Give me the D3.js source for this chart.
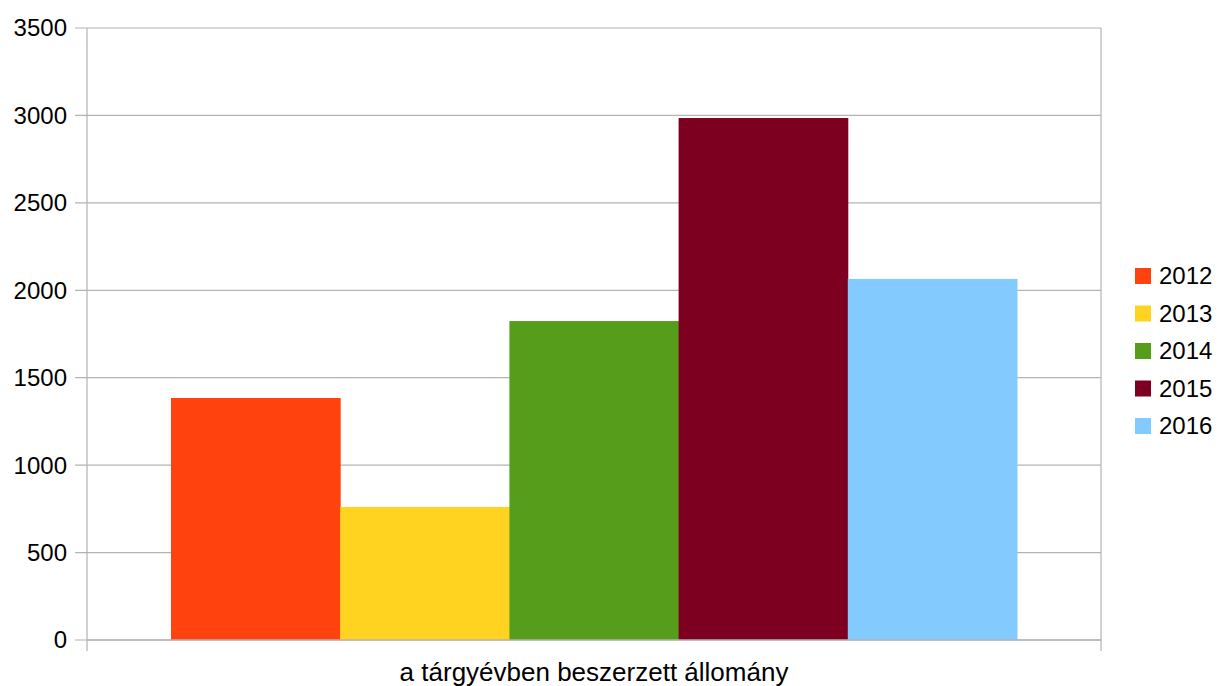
<!DOCTYPE html>
<html><head><meta charset="utf-8">
<script src="https://cdn.jsdelivr.net/npm/d3@7"></script>
<style>body{margin:0;background:#fff}svg{display:block}text{font-family:"Liberation Sans",Arial,sans-serif}</style>
</head><body>
<svg id="c" width="1219" height="686"></svg>
<script>
const categories = ["a tárgyévben beszerzett állomány"];
const seriesNames = ["2012", "2013", "2014", "2015", "2016"];
const seriesValues = [1384, 761, 1824, 2985, 2065];
const seriesColors = ["#ff420e", "#ffd320", "#579d1c", "#7e0021", "#83caff"];
const yTicks = [0, 500, 1000, 1500, 2000, 2500, 3000, 3500];

const svg = d3.select("#c");
const L = 87, R = 1101, T = 28, B = 640;
const fs = 24;

const y = d3.scaleLinear().domain([0, 3500]).range([B, T]);
const x0 = d3.scaleBand().domain(categories).range([L, R]).paddingInner(0).paddingOuter(0.0993);
const x1 = d3.scaleBand().domain(seriesNames).range([0, x0.bandwidth()]).padding(0);

// gridlines
svg.append("g").selectAll("line").data(yTicks).join("line")
  .attr("x1", L - 12).attr("x2", R).attr("y1", d => y(d)).attr("y2", d => y(d))
  .attr("stroke", "#b3b3b3").attr("stroke-width", 1.2);

// bars
const g = svg.append("g");
categories.forEach((c, ci) => {
  g.selectAll(null).data(seriesNames).join("rect")
    .attr("x", d => x0(c) + x1(d))
    .attr("width", x1.bandwidth() + 0.5)
    .attr("y", (d, i) => y(seriesValues[i]))
    .attr("height", (d, i) => B - y(seriesValues[i]))
    .attr("fill", (d, i) => seriesColors[i]);
});

// axes lines
svg.append("line").attr("x1", L).attr("x2", L).attr("y1", T).attr("y2", B + 11).attr("stroke", "#b3b3b3").attr("stroke-width", 1.2);
svg.append("line").attr("x1", R).attr("x2", R).attr("y1", T).attr("y2", B + 11).attr("stroke", "#b3b3b3").attr("stroke-width", 1.2);
svg.append("line").attr("x1", L).attr("x2", R).attr("y1", B).attr("y2", B).attr("stroke", "#b3b3b3").attr("stroke-width", 1.5);

// y labels
svg.append("g").selectAll("text").data(yTicks).join("text")
  .attr("x", 67).attr("y", d => y(d)).attr("dy", "0.35em")
  .attr("text-anchor", "end").attr("font-size", fs).attr("fill", "#000")
  .text(d => d);

// x label
svg.append("g").selectAll("text").data(categories).join("text")
  .attr("x", d => x0(d) + x0.bandwidth() / 2).attr("y", 681)
  .attr("text-anchor", "middle").attr("font-size", 26).attr("fill", "#000")
  .text(d => d);

// legend
const lg = svg.append("g");
seriesNames.forEach((s, i) => {
  const cy = 276 + i * 37.5;
  lg.append("rect").attr("x", 1135).attr("y", cy - 8).attr("width", 16).attr("height", 16).attr("fill", seriesColors[i]);
  lg.append("text").attr("x", 1159).attr("y", cy).attr("dy", "0.35em").attr("font-size", fs).attr("fill", "#000").text(s);
});
</script>
</body></html>
